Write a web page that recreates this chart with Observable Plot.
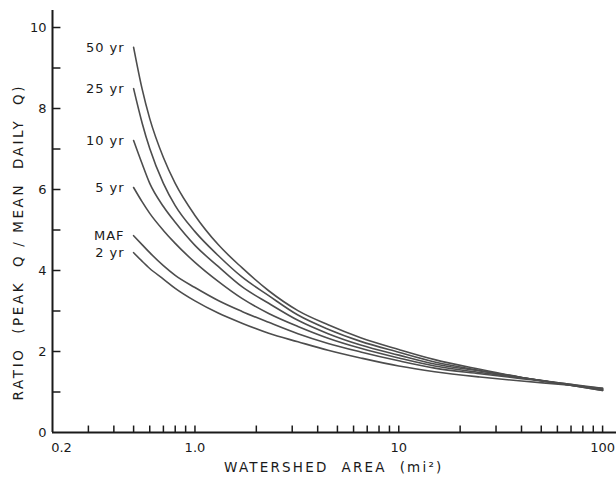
<!DOCTYPE html>
<html>
<head>
<meta charset="utf-8">
<script src="https://cdn.jsdelivr.net/npm/d3@7"></script>
<script src="https://cdn.jsdelivr.net/npm/@observablehq/plot@0.6"></script>
<style>
  body { margin: 0; background: #ffffff; }
  #chart svg { display: block; }
</style>
</head>
<body>
<div id="chart"></div>
<script>
// Watershed area (mi²) at which each curve is read
const areas = [0.5, 0.55, 0.6, 0.7, 0.8, 1.0, 1.3, 1.7, 2.3, 3.2, 4.5, 6.5, 10, 15, 25, 40, 65, 100];
// Ratio (peak Q / mean daily Q) for each recurrence curve
const r50  = [9.51, 8.49, 7.75, 6.79, 6.15, 5.36, 4.64, 4.07, 3.50, 3.01, 2.66, 2.34, 2.05, 1.80, 1.56, 1.36, 1.19, 1.04];
const r25  = [8.49, 7.65, 7.01, 6.15, 5.60, 4.96, 4.37, 3.84, 3.38, 2.90, 2.55, 2.25, 1.98, 1.74, 1.53, 1.36, 1.19, 1.04];
const r10  = [7.21, 6.64, 6.15, 5.58, 5.19, 4.62, 4.10, 3.60, 3.19, 2.77, 2.44, 2.16, 1.91, 1.69, 1.52, 1.36, 1.19, 1.06];
const r5   = [6.05, 5.70, 5.41, 4.99, 4.67, 4.20, 3.73, 3.31, 2.94, 2.62, 2.33, 2.08, 1.84, 1.64, 1.48, 1.35, 1.21, 1.06];
const rMAF = [4.86, 4.64, 4.44, 4.12, 3.88, 3.58, 3.26, 2.99, 2.72, 2.44, 2.20, 1.99, 1.77, 1.59, 1.45, 1.33, 1.21, 1.09];
const r2   = [4.44, 4.23, 4.05, 3.79, 3.56, 3.25, 2.95, 2.70, 2.45, 2.24, 2.03, 1.84, 1.64, 1.50, 1.37, 1.27, 1.18, 1.09];
const seriesNames = ["50 yr", "25 yr", "10 yr", "5 yr", "MAF", "2 yr"];
const seriesValues = [r50, r25, r10, r5, rMAF, r2];

// Axis ticks and labels
const xLabelTicks = [1, 10, 100];
const xLabelText = ["1.0", "10", "100"];
const xFirstTick = [0.2];
const xFirstText = ["0.2"];
const xMinorTicks = [0.3, 0.4, 0.5, 0.6, 0.7, 0.8, 0.9, 1,
                     2, 3, 4, 5, 6, 7, 8, 9, 10,
                     20, 30, 40, 50, 60, 70, 80, 90, 100];
const yMinorTicks = [1, 2, 3, 4, 5, 6, 7, 8, 9, 10];
const yLabelTicks = [0, 2, 4, 6, 8, 10];
const xTitle = "WATERSHED  AREA  (mi²)";
const yTitle = "RATIO  (PEAK  Q / MEAN  DAILY  Q)";

const rows = [];
seriesNames.forEach((name, i) => {
  areas.forEach((a, j) => rows.push({series: name, area: a, ratio: seriesValues[i][j]}));
});
const starts = seriesNames.map((name, i) => ({series: name, area: areas[0], ratio: seriesValues[i][0]}));

const font = "'DejaVu Sans', sans-serif";
const ink = "#1a1a1a";

const chart = Plot.plot({
  width: 616,
  height: 479,
  marginLeft: 52,
  marginRight: 0,
  marginTop: 10,
  marginBottom: 47,
  style: {fontFamily: font, fontSize: "13px", color: ink, background: "#ffffff"},
  x: {type: "log", domain: [0.2, 117]},
  y: {domain: [0, 10.42]},
  marks: [
    // tick labels
    Plot.axisX({ticks: xLabelTicks, tickSize: 0, tickPadding: 10,
      tickFormat: d => xLabelText[xLabelTicks.indexOf(d)], label: null, fontSize: 13}),
    Plot.axisX({ticks: xFirstTick, tickSize: 0, tickPadding: 10, dx: 9,
      tickFormat: d => xFirstText[xFirstTick.indexOf(d)], label: null, fontSize: 13}),
    Plot.axisY({ticks: yLabelTicks, tickSize: 0, tickPadding: 6, label: null, fontSize: 13}),
    // inward ticks
    Plot.ruleX(xMinorTicks, {x: d => d, y1: 0, y2: 0.16, stroke: ink, strokeWidth: 1.5}),
    Plot.ruleY(yMinorTicks, {y: d => d, x1: 0.2, x2: 0.22, stroke: ink, strokeWidth: 1.5}),
    // axis lines
    Plot.ruleX([0.2], {stroke: ink, strokeWidth: 2}),
    Plot.ruleY([0], {stroke: ink, strokeWidth: 2}),
    // curves
    Plot.line(rows, {x: "area", y: "ratio", z: "series", stroke: "#4d4d4d",
      strokeWidth: 1.6, curve: "monotone-x"}),
    // curve labels
    Plot.text(starts, {x: "area", y: "ratio", text: "series", textAnchor: "end",
      dx: -9, fill: ink, fontSize: 13}),
    // axis titles
    Plot.text([xTitle], {x: 4.8, y: 0, dy: 35, text: d => d, fill: ink, fontSize: 13.5}),
    Plot.text([yTitle], {x: 0.2, y: 4.7, dx: -34, rotate: -90, text: d => d,
      fill: ink, fontSize: 13.5})
  ]
});

// letter spacing of the hand-lettered labels
d3.select(chart).selectAll("text").each(function() {
  const t = this.textContent;
  if (t === yTitle) this.style.letterSpacing = "2.6px";
  else if (t === xTitle) this.style.letterSpacing = "2.2px";
  else if (seriesNames.includes(t)) this.style.letterSpacing = "1px";
});
document.getElementById("chart").appendChild(chart);
</script>
</body>
</html>
